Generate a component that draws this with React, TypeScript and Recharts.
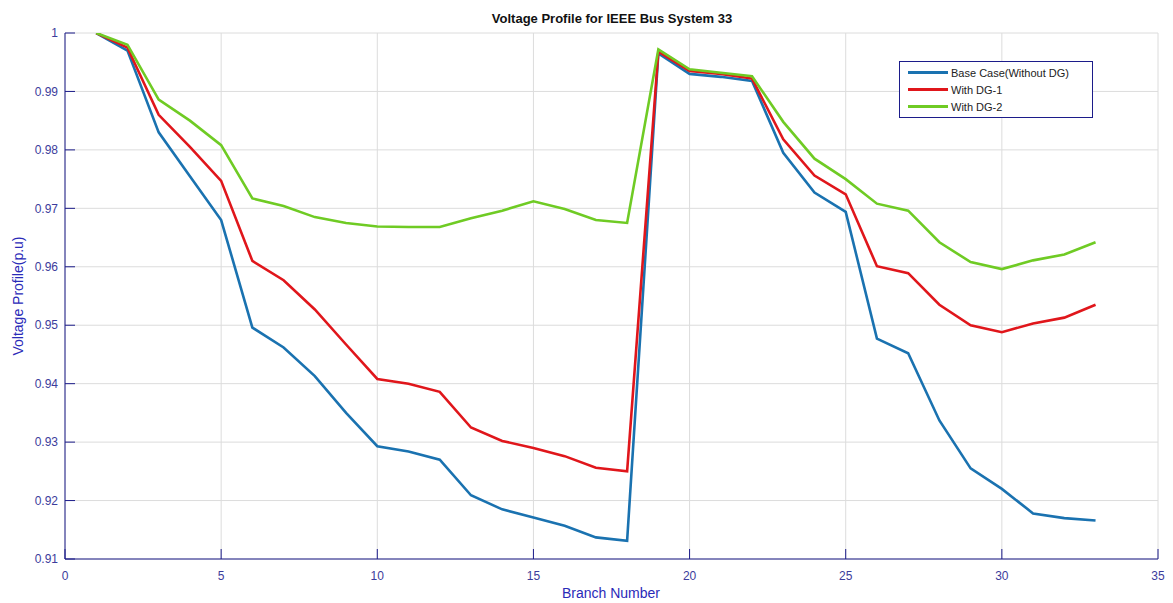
import React from 'react';
import { LineChart, Line, XAxis, YAxis, CartesianGrid } from 'recharts';

const branches = Array.from({ length: 33 }, (_, i) => i + 1);
const baseCase = [1.0, 0.997, 0.983, 0.9755, 0.968, 0.9496, 0.9462, 0.9413, 0.935, 0.9293, 0.9284, 0.927, 0.9209, 0.9185, 0.9171, 0.9157, 0.9137, 0.9131, 0.9965, 0.993, 0.9925, 0.9918, 0.9795, 0.9727, 0.9694, 0.9477, 0.9452, 0.9337, 0.9255, 0.922, 0.9178, 0.917, 0.9166];
const withDG1 = [1.0, 0.9975, 0.986, 0.9805, 0.9747, 0.961, 0.9577, 0.9527, 0.9467, 0.9408, 0.94, 0.9386, 0.9325, 0.9302, 0.929, 0.9276, 0.9256, 0.925, 0.9968, 0.9935, 0.993, 0.9922, 0.9818, 0.9756, 0.9724, 0.9601, 0.9589, 0.9535, 0.95, 0.9488, 0.9503, 0.9513, 0.9535];
const withDG2 = [1.0, 0.998, 0.9886, 0.985, 0.9808, 0.9717, 0.9704, 0.9685, 0.9675, 0.9669, 0.9668, 0.9668, 0.9683, 0.9696, 0.9712, 0.9699, 0.968, 0.9675, 0.9972, 0.9938, 0.9932, 0.9926, 0.9848, 0.9785, 0.975, 0.9708, 0.9696, 0.9642, 0.9608, 0.9596, 0.9611, 0.9621, 0.9642];
const xTicks = [0, 5, 10, 15, 20, 25, 30, 35];
const yTicks = [0.91, 0.92, 0.93, 0.94, 0.95, 0.96, 0.97, 0.98, 0.99, 1];

const seriesNames = ['Base Case(Without DG)', 'With DG-1', 'With DG-2'];
const seriesColors = ['#1a72b0', '#e0161b', '#6fcb24'];

const data = branches.map((b, i) => ({ branch: b, base: baseCase[i], dg1: withDG1[i], dg2: withDG2[i] }));

const axisColor = '#1c1c8a';
const tickColor = '#3c3c9c';
const labelColor = '#2a2ab8';
const font = 'Arial, "Liberation Sans", sans-serif';

const LegendBox = () => (
  <div style={{ position: 'absolute', left: 891, top: 53, border: `1px solid ${axisColor}`, background: '#fff', padding: '2px 8px 2px 8px', fontFamily: font, fontSize: 11, color: '#222', width: 176 }}>
    {seriesNames.map((n, i) => (
      <div key={n} style={{ display: 'flex', alignItems: 'center', height: 17 }}>
        <div style={{ width: 40, height: 0, borderTop: `3px solid ${seriesColors[i]}`, marginRight: 3 }} />
        <span>{n}</span>
      </div>
    ))}
  </div>
);

export default function App() {
  return (
    <div style={{ position: 'relative', width: 1165, height: 595, fontFamily: font }}>
      <LineChart width={1165} height={595} data={data} margin={{ top: 25, right: 15, left: 0, bottom: 0 }}>
        <CartesianGrid stroke="#dcdcdc" strokeWidth={1} />
        <XAxis
          dataKey="branch"
          type="number"
          domain={[0, 35]}
          ticks={xTicks}
          allowDataOverflow
          height={44}
          stroke={axisColor}
          tickSize={-10}
          tickMargin={22}
          tick={{ fill: tickColor, fontSize: 12, fontFamily: font }}
        />
        <XAxis xAxisId="top" orientation="top" dataKey="branch" type="number" domain={[0, 35]} ticks={xTicks} height={0} stroke={axisColor} tickSize={-10} tick={false} />
        <YAxis
          type="number"
          domain={[0.91, 1]}
          ticks={yTicks}
          allowDataOverflow
          width={57}
          stroke={axisColor}
          tickSize={-10}
          tickMargin={17}
          tickFormatter={(v: number) => String(+v.toFixed(2))}
          tick={{ fill: tickColor, fontSize: 12, fontFamily: font }}
        />
        <YAxis yAxisId="right" orientation="right" type="number" domain={[0.91, 1]} ticks={yTicks} width={0} stroke={axisColor} tickSize={-10} tick={false} />
        <Line dataKey="base" stroke={seriesColors[0]} strokeWidth={2.6} dot={false} isAnimationActive={false} />
        <Line dataKey="dg1" stroke={seriesColors[1]} strokeWidth={2.6} dot={false} isAnimationActive={false} />
        <Line dataKey="dg2" stroke={seriesColors[2]} strokeWidth={2.6} dot={false} isAnimationActive={false} />
      </LineChart>
      <div style={{ position: 'absolute', left: 604, top: 3, transform: 'translateX(-50%)', whiteSpace: 'nowrap', fontWeight: 'bold', fontSize: 13, color: '#111' }}>
        Voltage Profile for IEEE Bus System 33
      </div>
      <div style={{ position: 'absolute', left: 603, top: 577, transform: 'translateX(-50%)', whiteSpace: 'nowrap', fontSize: 14, color: labelColor }}>
        Branch Number
      </div>
      <div style={{ position: 'absolute', left: 10, top: 288, transform: 'translate(-50%, -50%) rotate(-90deg)', whiteSpace: 'nowrap', fontSize: 14, color: labelColor }}>
        Voltage Profile(p.u)
      </div>
      <LegendBox />
    </div>
  );
}
